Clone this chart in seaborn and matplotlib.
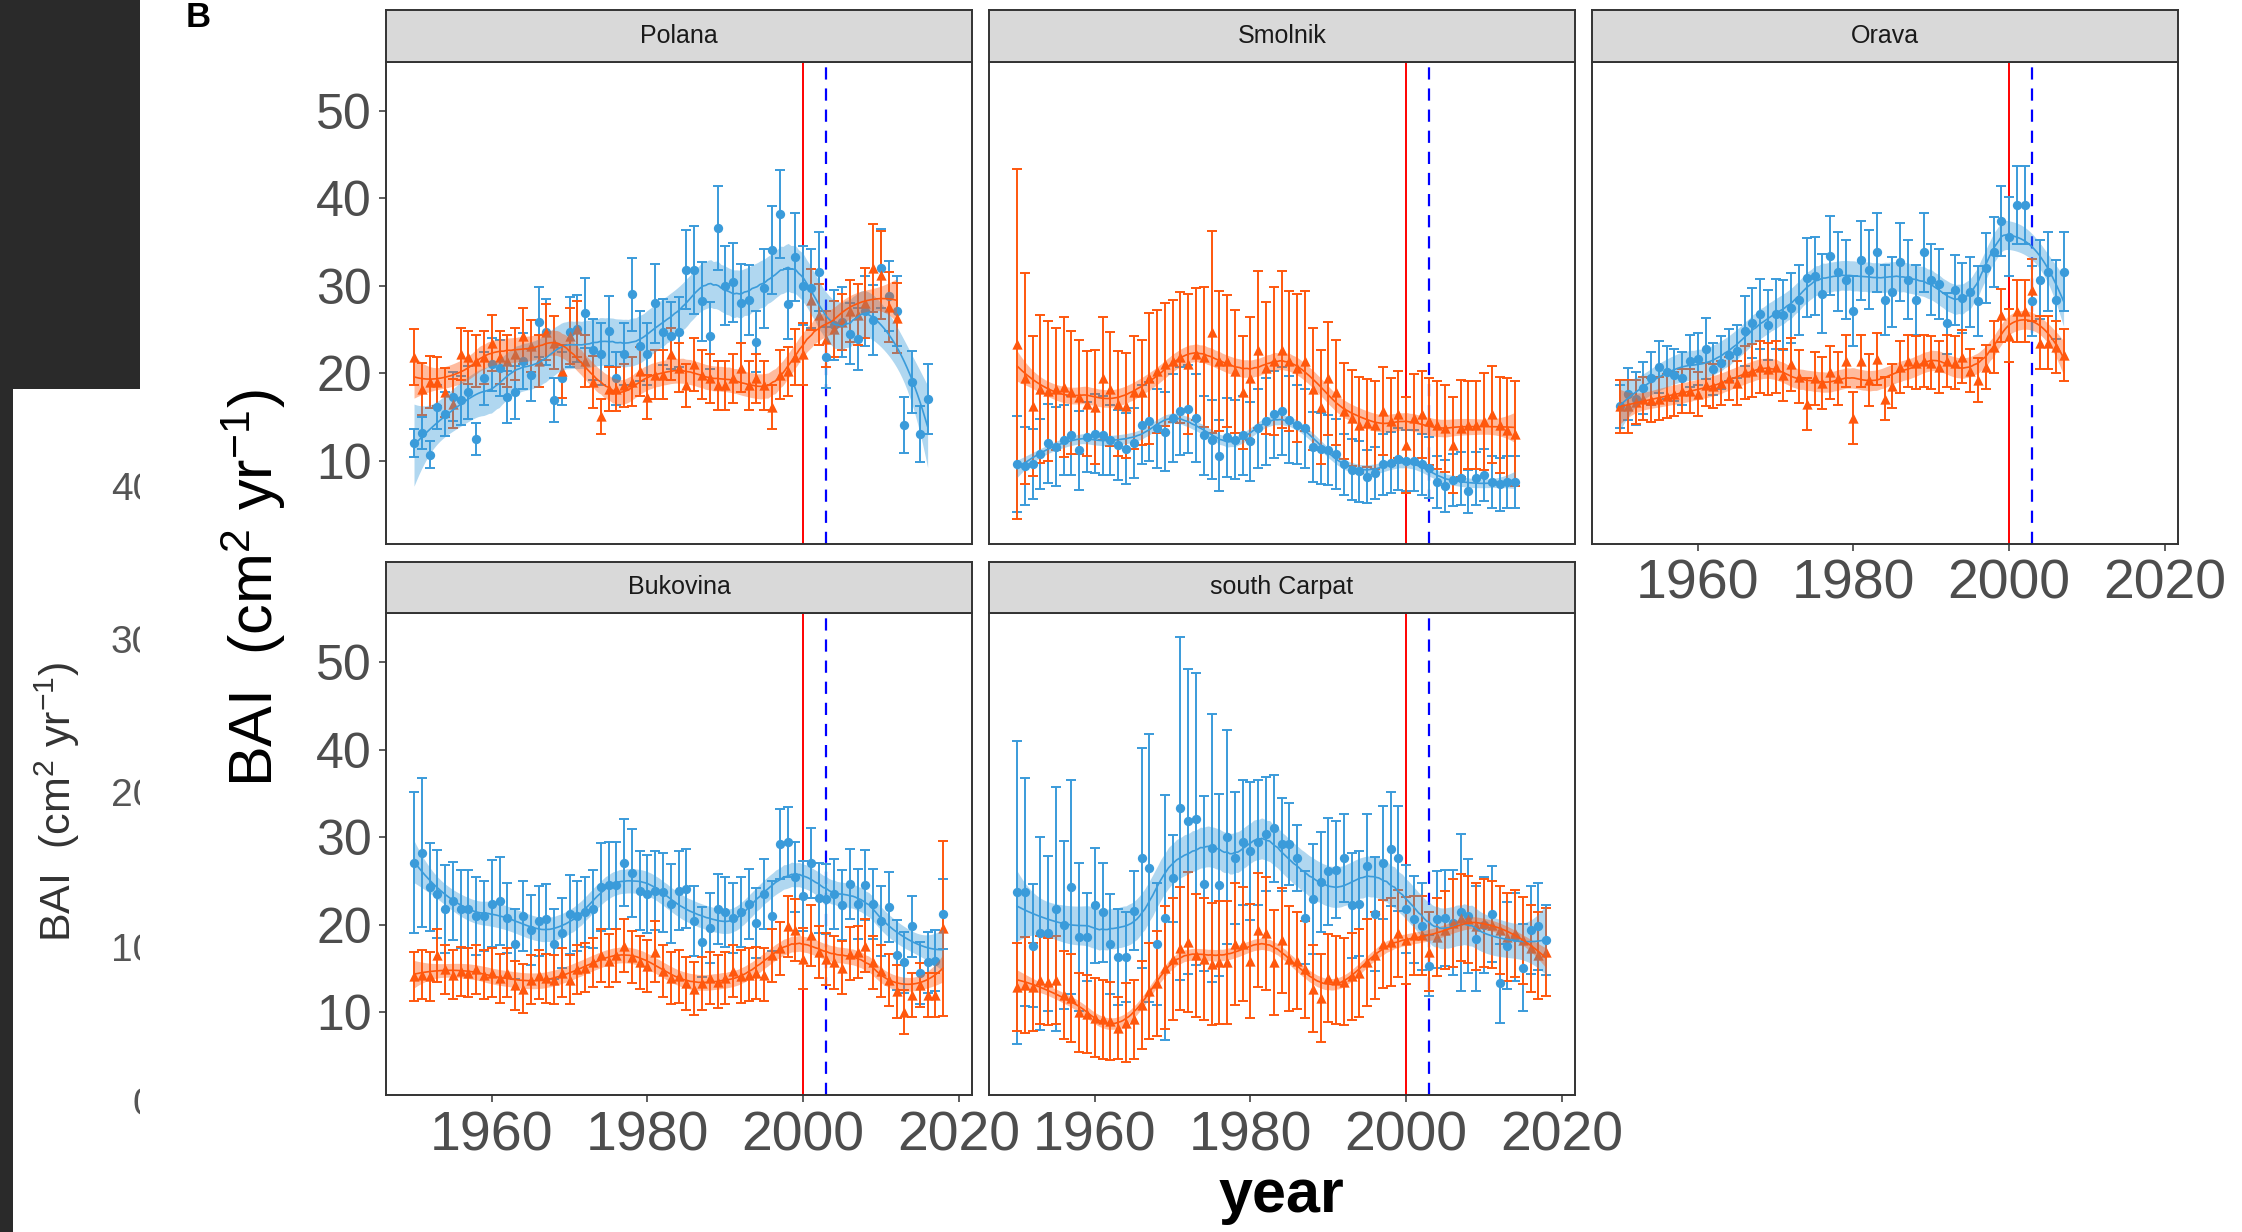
import numpy as np
import pandas as pd
import matplotlib
matplotlib.use("Agg")
import matplotlib.pyplot as plt
from matplotlib.patches import Rectangle
import seaborn as sns

sns.set_theme(style="white")
plt.rcParams["font.family"] = ["Liberation Sans", "DejaVu Sans"]
plt.rcParams["mathtext.fontset"] = "custom"
plt.rcParams["mathtext.rm"] = "Liberation Sans"
plt.rcParams["mathtext.it"] = "Liberation Sans:italic"
plt.rcParams["mathtext.bf"] = "Liberation Sans:bold"

# --- DATA ---
sites = ["Polana", "Smolnik", "Orava", "Bukovina", "south Carpat"]
event_year = 2000        # red solid line
event_year_2 = 2003      # blue dashed line
x_ticks = [1960, 1980, 2000, 2020]
y_ticks = [10, 20, 30, 40, 50]

# first year of each series
polana_start = 1950
smolnik_start = 1950
orava_start = 1950
bukovina_start = 1950
carpat_start = 1950

polana_blue = [12.0, 13.2, 10.7, 16.1, 15.3, 17.3, 16.9, 17.8, 12.5, 19.4,
               21.0, 20.6, 17.3, 17.8, 21.4, 19.8, 25.9, 24.7, 16.9, 19.4,
               24.7, 25.1, 26.9, 22.7, 22.2, 24.8, 19.4, 22.2, 29.0, 23.1,
               22.2, 28.0, 24.7, 24.3, 24.7, 31.8, 31.8, 28.2, 24.3, 36.6,
               30.0, 30.4, 28.0, 28.4, 23.6, 29.7, 34.1, 38.2, 27.9, 33.3,
               30.0, 29.7, 31.6, 21.8, 25.5, 25.9, 24.5, 23.9, 27.1, 26.1,
               32.0, 28.8, 27.1, 14.1, 19.0, 13.1, 17.1]
polana_blue_err = [1.6, 1.8, 1.5, 2.5, 2.5, 2.8, 2.8, 3.0, 1.8, 3.0,
                   3.0, 3.2, 3.0, 3.0, 3.2, 3.0, 4.0, 3.8, 2.5, 3.0,
                   4.0, 3.8, 4.0, 3.5, 3.5, 4.0, 3.0, 3.5, 4.2, 4.0,
                   3.5, 4.5, 3.8, 3.8, 4.0, 4.5, 5.0, 4.5, 3.8, 4.8,
                   4.5, 4.5, 4.5, 4.0, 3.5, 4.5, 5.0, 5.0, 4.0, 5.0,
                   4.5, 4.5, 4.5, 3.5, 4.0, 4.0, 3.5, 3.5, 4.0, 4.0,
                   4.5, 4.0, 4.0, 3.2, 3.5, 3.2, 4.0]
polana_orange = [21.8, 18.2, 19.0, 19.0, 17.8, 16.5, 22.2, 21.8, 21.4, 21.8,
                 23.5, 21.8, 21.4, 22.2, 24.3, 23.1, 21.4, 24.7, 23.5, 20.2,
                 24.3, 25.1, 21.4, 19.0, 15.1, 18.2, 18.2, 18.6, 19.0, 20.2,
                 17.3, 19.8, 19.8, 22.2, 20.6, 18.6, 21.0, 19.8, 19.4, 18.6,
                 18.6, 19.4, 20.6, 18.6, 19.4, 18.6, 16.1, 19.8, 20.2, 21.8,
                 22.2, 28.4, 26.7, 23.9, 25.1, 25.9, 27.1, 26.7, 28.0, 32.0,
                 31.2, 27.6, 26.3]
polana_orange_err = [3.2, 3.0, 3.0, 2.8, 2.8, 2.8, 3.0, 3.0, 3.0, 3.0,
                     3.2, 3.0, 3.0, 3.0, 3.2, 3.0, 3.0, 3.2, 3.0, 3.0,
                     3.2, 3.2, 3.0, 3.0, 2.0, 2.5, 2.5, 2.5, 2.8, 2.8,
                     2.5, 2.8, 2.8, 3.0, 2.8, 2.5, 3.0, 2.8, 2.8, 2.8,
                     2.8, 2.8, 2.8, 2.8, 2.8, 2.8, 2.5, 2.8, 2.8, 3.2,
                     3.5, 3.5, 3.5, 3.2, 3.2, 3.2, 3.5, 3.5, 4.0, 5.0,
                     5.0, 4.0, 4.0]

smolnik_blue = [9.6, 9.4, 9.6, 10.8, 12.0, 11.6, 12.4, 12.9, 11.2, 12.7,
                13.1, 12.9, 12.4, 11.8, 11.4, 12.0, 14.1, 14.5, 13.7, 13.3,
                14.9, 15.7, 15.9, 14.9, 12.9, 12.4, 10.6, 12.7, 12.4, 12.9,
                12.2, 13.7, 14.5, 15.3, 15.7, 14.7, 14.1, 13.7, 11.6, 11.4,
                11.2, 10.8, 9.6, 9.0, 8.8, 8.2, 8.6, 9.6, 9.8, 10.2,
                10.0, 10.0, 9.6, 9.2, 7.6, 7.1, 7.8, 8.0, 6.5, 8.0,
                8.4, 7.6, 7.3, 7.6, 7.6]
smolnik_blue_err = [5.5, 4.5, 4.0, 4.0, 4.5, 4.5, 4.0, 4.5, 4.5, 4.0,
                    4.5, 4.5, 4.0, 4.0, 4.0, 4.0, 4.5, 4.5, 4.5, 4.5,
                    5.0, 5.0, 5.0, 5.0, 4.5, 4.5, 4.0, 4.5, 4.5, 4.5,
                    4.5, 4.5, 5.0, 5.0, 5.0, 5.0, 4.5, 4.5, 4.0, 4.0,
                    4.0, 4.0, 3.5, 3.5, 3.5, 3.0, 3.0, 3.5, 3.5, 3.5,
                    3.5, 3.5, 3.5, 3.5, 3.0, 3.0, 3.0, 3.0, 2.5, 3.0,
                    3.0, 3.0, 3.0, 3.0, 3.0]
smolnik_orange = [23.3, 19.4, 16.3, 18.2, 18.0, 18.2, 18.4, 17.8, 17.3, 16.5,
                  16.1, 19.4, 18.2, 16.5, 16.3, 17.8, 17.8, 19.4, 20.2, 21.0,
                  21.4, 21.8, 21.0, 22.2, 21.8, 24.7, 21.4, 21.4, 20.2, 17.8,
                  19.4, 22.7, 20.6, 21.4, 22.7, 21.4, 20.6, 21.4, 18.2, 16.1,
                  19.4, 17.8, 15.7, 14.9, 14.1, 14.3, 14.1, 15.7, 14.5, 15.3,
                  11.8, 14.9, 15.3, 14.5, 14.1, 13.7, 11.8, 13.7, 14.1, 14.1,
                  14.5, 15.3, 14.1, 13.5, 13.1]
smolnik_orange_err = [20.0, 12.0, 8.0, 8.5, 8.0, 7.0, 8.0, 7.0, 6.5, 6.0,
                      6.5, 7.0, 6.5, 6.0, 6.0, 6.5, 6.0, 7.5, 7.0, 7.0,
                      7.0, 7.5, 8.0, 7.5, 8.0, 11.5, 8.0, 7.5, 7.0, 6.5,
                      7.0, 9.0, 7.5, 8.5, 9.0, 8.0, 8.5, 8.0, 7.0, 6.5,
                      6.5, 6.0, 5.5, 5.5, 5.5, 5.0, 5.0, 5.0, 5.0, 5.0,
                      5.5, 5.0, 5.0, 5.0, 5.0, 5.0, 5.5, 5.5, 5.0, 5.0,
                      5.5, 5.5, 5.5, 6.0, 6.0]

orava_blue = [16.2, 17.6, 17.1, 18.3, 19.4, 20.7, 20.1, 19.8, 19.4, 21.4,
              21.6, 22.8, 20.5, 21.2, 22.1, 22.5, 24.8, 25.7, 26.8, 25.5,
              26.8, 26.6, 27.5, 28.4, 30.9, 31.1, 29.1, 33.4, 31.6, 30.7,
              27.1, 32.9, 31.8, 33.8, 28.4, 29.3, 32.7, 30.7, 28.4, 33.8,
              30.7, 30.2, 25.7, 29.5, 28.6, 29.3, 28.2, 32.0, 33.8, 37.4,
              35.6, 39.2, 39.2, 28.2, 30.7, 31.6, 28.4, 31.6]
orava_blue_err = [2.5, 3.0, 3.0, 3.0, 3.0, 3.0, 3.0, 3.0, 3.0, 3.0,
                  3.0, 3.5, 3.0, 3.0, 3.0, 3.0, 4.0, 4.0, 4.0, 4.0,
                  4.0, 4.0, 4.0, 4.0, 4.5, 4.5, 4.5, 4.5, 4.5, 4.5,
                  4.0, 4.5, 4.5, 4.5, 4.0, 4.0, 4.5, 4.5, 4.0, 4.5,
                  4.0, 4.0, 3.5, 4.0, 4.0, 4.0, 4.0, 4.0, 4.0, 4.0,
                  4.5, 4.5, 4.5, 4.0, 4.5, 4.5, 4.5, 4.5]
orava_orange = [16.2, 16.2, 16.7, 17.1, 16.9, 17.1, 17.4, 17.6, 18.0, 18.0,
                17.6, 18.7, 18.5, 18.9, 19.4, 18.9, 20.1, 20.3, 20.7, 20.5,
                20.7, 19.8, 21.0, 19.6, 16.5, 19.4, 18.9, 20.1, 19.4, 21.4,
                14.9, 21.4, 19.2, 21.6, 17.1, 18.5, 20.7, 21.4, 21.2, 21.4,
                21.2, 20.7, 21.4, 21.2, 21.9, 20.3, 19.2, 20.7, 23.0, 26.6,
                24.3, 27.1, 27.1, 29.5, 23.5, 23.5, 23.0, 22.1]
orava_orange_err = [3.0, 3.0, 2.5, 2.5, 2.5, 2.5, 2.5, 2.5, 2.5, 2.5,
                    2.5, 2.5, 2.5, 2.5, 2.5, 2.5, 3.0, 3.0, 3.0, 3.0,
                    3.0, 3.0, 3.0, 3.0, 3.0, 3.0, 3.0, 3.0, 3.0, 3.0,
                    3.0, 3.0, 3.0, 3.0, 2.5, 2.5, 3.0, 3.0, 3.0, 3.0,
                    3.0, 3.0, 3.0, 3.0, 3.0, 2.5, 2.5, 2.5, 3.0, 3.0,
                    3.0, 3.5, 3.5, 3.5, 3.0, 3.0, 3.0, 3.0]

bukovina_blue = [27.1, 28.2, 24.3, 23.5, 21.8, 22.7, 21.8, 21.8, 21.0, 21.0,
                 22.4, 22.7, 20.8, 17.8, 21.0, 19.4, 20.4, 20.6, 17.8, 19.0,
                 21.2, 21.0, 21.4, 21.8, 24.3, 24.5, 24.5, 27.1, 25.9, 23.9,
                 23.5, 23.9, 23.7, 22.4, 23.9, 24.1, 20.4, 18.0, 19.6, 21.8,
                 21.4, 20.8, 21.4, 22.4, 20.2, 23.5, 21.0, 29.2, 29.4, 25.5,
                 23.3, 27.1, 23.1, 22.9, 23.5, 22.2, 24.7, 22.4, 24.5, 22.4,
                 20.4, 22.0, 16.5, 15.7, 19.8, 14.5, 15.7, 15.9, 21.2]
bukovina_blue_err = [8.0, 8.5, 5.0, 5.0, 5.0, 4.5, 4.5, 4.5, 4.5, 4.0,
                     5.0, 5.0, 4.0, 4.0, 4.0, 4.0, 4.0, 4.0, 4.0, 4.0,
                     4.5, 4.0, 4.0, 4.5, 5.0, 5.0, 5.0, 5.0, 5.0, 4.5,
                     4.5, 4.5, 4.5, 4.5, 4.5, 4.5, 4.0, 4.0, 4.0, 4.0,
                     4.0, 4.0, 4.0, 4.0, 4.0, 4.0, 4.0, 4.0, 4.0, 4.0,
                     4.0, 4.0, 4.0, 4.0, 4.0, 4.0, 4.0, 4.0, 4.0, 4.0,
                     4.0, 4.0, 4.0, 3.5, 3.5, 3.5, 3.5, 3.5, 4.0]
bukovina_orange = [14.1, 14.3, 14.1, 16.5, 14.9, 14.3, 14.7, 14.5, 14.9, 14.3,
                   14.5, 13.9, 14.5, 13.1, 12.7, 13.7, 14.3, 13.9, 13.7, 14.5,
                   13.7, 14.9, 15.1, 15.7, 16.5, 15.9, 16.5, 17.6, 16.3, 15.7,
                   15.3, 16.9, 14.7, 13.9, 14.1, 13.3, 12.7, 13.3, 13.9, 13.5,
                   13.9, 14.7, 14.1, 14.3, 14.5, 14.3, 16.5, 17.3, 19.8, 19.4,
                   16.1, 18.8, 16.9, 16.1, 15.7, 15.1, 16.7, 16.9, 17.6, 15.7,
                   14.7, 13.7, 12.4, 10.0, 12.0, 13.1, 12.0, 12.0, 19.6]
bukovina_orange_err = [2.8, 2.8, 2.8, 3.0, 2.8, 2.8, 2.8, 2.8, 2.8, 2.8,
                       2.8, 2.8, 2.8, 2.8, 2.8, 2.8, 2.8, 2.8, 2.8, 2.8,
                       2.8, 2.8, 2.8, 2.8, 3.0, 3.0, 3.0, 3.0, 3.0, 3.0,
                       3.0, 3.5, 3.0, 3.0, 3.0, 3.0, 3.0, 3.0, 3.0, 3.0,
                       3.0, 3.0, 3.0, 3.0, 3.0, 3.0, 3.0, 3.0, 3.5, 3.5,
                       3.5, 3.5, 3.0, 3.0, 3.0, 3.0, 3.0, 3.0, 3.0, 3.0,
                       3.0, 3.0, 3.0, 2.5, 2.5, 2.5, 2.5, 2.5, 10.0]

carpat_blue = [23.7, 23.7, 17.6, 19.0, 19.0, 21.8, 20.0, 24.3, 18.6, 18.6,
               22.2, 21.4, 17.8, 16.3, 16.3, 21.6, 27.6, 26.5, 17.8, 20.8,
               25.3, 33.3, 31.8, 32.1, 24.7, 28.8, 24.5, 30.0, 27.6, 29.4,
               28.4, 29.4, 30.4, 31.0, 29.2, 29.2, 27.6, 20.8, 22.9, 24.9,
               26.1, 26.3, 27.6, 22.2, 22.4, 26.7, 21.2, 27.1, 28.6, 27.6,
               21.8, 20.6, 19.8, 15.3, 20.6, 20.8, 20.2, 21.4, 21.0, 18.4,
               20.0, 21.2, 13.3, 17.6, 18.6, 15.1, 19.4, 19.8, 18.2]
carpat_blue_err = [17.3, 13.0, 7.0, 11.0, 8.8, 13.9, 9.6, 12.2, 8.5, 5.0,
                   6.6, 5.7, 5.7, 5.5, 5.1, 4.5, 12.6, 15.3, 7.0, 14.0,
                   5.0, 19.6, 17.4, 16.7, 10.0, 15.3, 10.4, 12.2, 7.5, 7.1,
                   7.9, 7.1, 6.5, 6.1, 5.3, 4.7, 3.8, 5.3, 6.3, 5.7,
                   6.1, 5.5, 5.0, 6.0, 6.0, 6.0, 6.5, 6.5, 6.5, 6.0,
                   5.0, 5.0, 5.0, 3.5, 5.5, 5.5, 6.0, 9.0, 6.5, 6.0,
                   5.5, 5.5, 4.5, 5.0, 5.0, 5.0, 5.0, 5.0, 4.0]
carpat_orange = [12.9, 13.1, 12.9, 13.7, 13.5, 13.7, 12.0, 11.6, 10.0, 9.8,
                 9.4, 9.2, 9.0, 8.2, 8.8, 9.2, 10.8, 12.4, 13.3, 15.1,
                 16.1, 17.3, 18.0, 16.5, 16.1, 15.5, 15.7, 15.7, 17.8, 17.8,
                 15.9, 19.4, 19.0, 15.7, 18.2, 16.1, 15.9, 14.9, 12.7, 11.6,
                 13.9, 13.7, 13.5, 14.1, 14.5, 15.7, 16.5, 17.8, 18.0, 19.0,
                 18.2, 18.8, 18.8, 16.9, 18.6, 19.4, 20.2, 20.8, 20.6, 19.8,
                 20.2, 20.0, 19.4, 18.6, 19.0, 18.2, 17.3, 16.5, 16.9]
carpat_orange_err = [5.0, 5.5, 5.0, 5.0, 5.0, 5.0, 5.0, 5.0, 4.5, 4.5,
                     4.5, 4.5, 4.5, 3.5, 4.5, 4.5, 5.0, 5.5, 6.0, 7.0,
                     7.0, 7.0, 8.0, 7.0, 7.0, 7.0, 7.0, 7.0, 7.0, 6.5,
                     6.5, 6.5, 6.5, 6.0, 6.0, 6.0, 5.5, 5.5, 5.0, 5.0,
                     5.0, 5.0, 5.0, 5.0, 5.0, 5.0, 5.0, 5.0, 5.0, 5.0,
                     5.0, 4.5, 4.5, 4.5, 4.5, 4.5, 5.0, 5.0, 5.0, 5.0,
                     5.0, 5.0, 5.0, 5.0, 5.0, 5.0, 5.0, 5.0, 5.0]

# old figure peeking out on the left
old_ticks = ["40", "30", "20", "10", "0"]

# --- build long table ---
series = {
    "Polana": (polana_start, polana_blue, polana_blue_err, polana_orange, polana_orange_err),
    "Smolnik": (smolnik_start, smolnik_blue, smolnik_blue_err, smolnik_orange, smolnik_orange_err),
    "Orava": (orava_start, orava_blue, orava_blue_err, orava_orange, orava_orange_err),
    "Bukovina": (bukovina_start, bukovina_blue, bukovina_blue_err, bukovina_orange, bukovina_orange_err),
    "south Carpat": (carpat_start, carpat_blue, carpat_blue_err, carpat_orange, carpat_orange_err),
}
rows = []
for site, (y0, b, be, o, oe) in series.items():
    for grp, v, e in (("blue", b, be), ("orange", o, oe)):
        for i, (vv, ee) in enumerate(zip(v, e)):
            rows.append((site, grp, y0 + i, vv, ee))
df = pd.DataFrame(rows, columns=["site", "group", "year", "BAI", "se"])

colors = {"blue": "#3A9BDA", "orange": "#FF570D"}
markers = {"blue": "o", "orange": "^"}


def loess_fit(x, y, span=0.28, n_grid=200):
    x = np.asarray(x, float)
    y = np.asarray(y, float)
    n = len(x)
    k = max(int(np.ceil(span * n)), 5)

    def rows_for(points):
        out = []
        for x0 in points:
            d = np.abs(x - x0)
            h = np.sort(d)[k - 1] * 1.0001 + 1e-9
            w = np.clip(1 - (d / h) ** 3, 0, None) ** 3
            X = np.column_stack([np.ones(n), x - x0, (x - x0) ** 2])
            XtW = X.T * w
            out.append(np.linalg.solve(XtW @ X, XtW)[0])
        return np.array(out)

    L = rows_for(x)
    resid = y - L @ y
    sigma = np.sqrt(np.sum(resid ** 2) / (n - np.trace(L)))
    grid = np.linspace(x.min(), x.max(), n_grid)
    G = rows_for(grid)
    return grid, G @ y, sigma * np.sqrt(np.sum(G ** 2, axis=1))


# --- FIGURE ---
W, H = 2242, 1232
fig = plt.figure(figsize=(W / 100, H / 100), dpi=100)
fig.patch.set_facecolor("white")


def frect(x0, y0, w, h):
    return [x0 / W, 1 - (y0 + h) / H, w / W, h / H]


# dark background + old figure on the left
fig.add_artist(Rectangle((0, 1 - 389 / H), 140 / W, 389 / H, transform=fig.transFigure,
                         facecolor="#2A2A2A", edgecolor="none", zorder=0))
fig.add_artist(Rectangle((0, 0), 13 / W, 1 - 389 / H, transform=fig.transFigure,
                         facecolor="#2A2A2A", edgecolor="none", zorder=0))
for lab, yy in zip(old_ticks, [490, 643, 796, 951, 1105]):
    fig.text(154 / W, 1 - yy / H, lab, ha="right", va="center", fontsize=28,
             color="#555555", zorder=3)
fig.add_artist(Rectangle((140 / W, 0), 40 / W, 1 - 389 / H, transform=fig.transFigure,
                         facecolor="white", edgecolor="none", zorder=4))
fig.text(57 / W, 1 - 802 / H, r"BAI  (cm$^2$ yr$^{-1}$)", rotation=90, ha="center",
         va="center", fontsize=31, color="#333333")

layout = {"Polana": (0, 0), "Smolnik": (0, 1), "Orava": (0, 2),
          "Bukovina": (1, 0), "south Carpat": (1, 1)}
col_left = [386, 989, 1592]
row_top = [61.5, 613]
panel_w, panel_h, strip_h = 586, 482, 51.5
edge = "#333333"

for site in sites:
    r, c = layout[site]
    ax = fig.add_axes(frect(col_left[c], row_top[r], panel_w, panel_h))
    sub = df[df["site"] == site]

    ax.axvline(event_year, color="red", lw=1.4, zorder=1)
    ax.axvline(event_year_2, color="blue", lw=1.6, ls=(0, (5.5, 4)), zorder=1)

    for grp in ["blue", "orange"]:
        g = sub[sub["group"] == grp]
        ax.errorbar(g["year"], g["BAI"], yerr=g["se"], fmt="none", ecolor=colors[grp],
                    elinewidth=1.4, capsize=3.5, capthick=1.4, zorder=2)
        sns.scatterplot(x=g["year"].values, y=g["BAI"].values, marker=markers[grp],
                        color=colors[grp], s=55 if grp == "orange" else 45,
                        linewidth=0, ax=ax, zorder=3)
    for grp in ["blue", "orange"]:
        g = sub[sub["group"] == grp]
        gx, fit, se = loess_fit(g["year"].values, g["BAI"].values)
        ax.fill_between(gx, fit - 2.0 * se, fit + 2.0 * se, color=colors[grp],
                        alpha=0.4, lw=0, zorder=4)
        sns.lineplot(x=gx, y=fit, color=colors[grp], lw=1.2, ax=ax, zorder=5,
                     estimator=None)

    ax.set_xlim(1946.4, 2021.7)
    ax.set_ylim(0.55, 55.6)
    ax.set_xticks(x_ticks)
    ax.set_yticks(y_ticks)
    ax.set_xlabel("")
    ax.set_ylabel("")
    for s in ax.spines.values():
        s.set_color(edge)
        s.set_linewidth(1.4)
    show_x = site in ("Orava", "Bukovina", "south Carpat")
    show_y = c == 0
    ax.tick_params(axis="x", bottom=show_x, labelbottom=show_x, length=5, width=1.1,
                   color=edge, labelsize=40, labelcolor="#4D4D4D", pad=6)
    ax.tick_params(axis="y", left=show_y, labelleft=show_y, length=5, width=1.1,
                   color=edge, labelsize=36, labelcolor="#4D4D4D", pad=5)

    # facet strip
    sax = fig.add_axes(frect(col_left[c], row_top[r] - strip_h, panel_w, strip_h))
    sax.set_facecolor("#D9D9D9")
    sax.set_xticks([])
    sax.set_yticks([])
    for s in sax.spines.values():
        s.set_color(edge)
        s.set_linewidth(1.4)
    sax.text(0.5, 0.5, site, ha="center", va="center", fontsize=18, color="#1A1A1A",
             transform=sax.transAxes)

fig.text(253 / W, 1 - 588 / H, r"BAI  (cm$^2$ yr$^{-1}$)", rotation=90, ha="center",
         va="center", fontsize=44, color="black")
fig.text(1281 / W, 1 - 1212 / H, "year", ha="center", va="baseline", fontsize=44,
         fontweight="bold", color="black")
fig.text(186 / W, 1 - 27 / H, "B", ha="left", va="baseline", fontsize=25,
         fontweight="bold", color="black")

fig.savefig("out.png", dpi=100)
